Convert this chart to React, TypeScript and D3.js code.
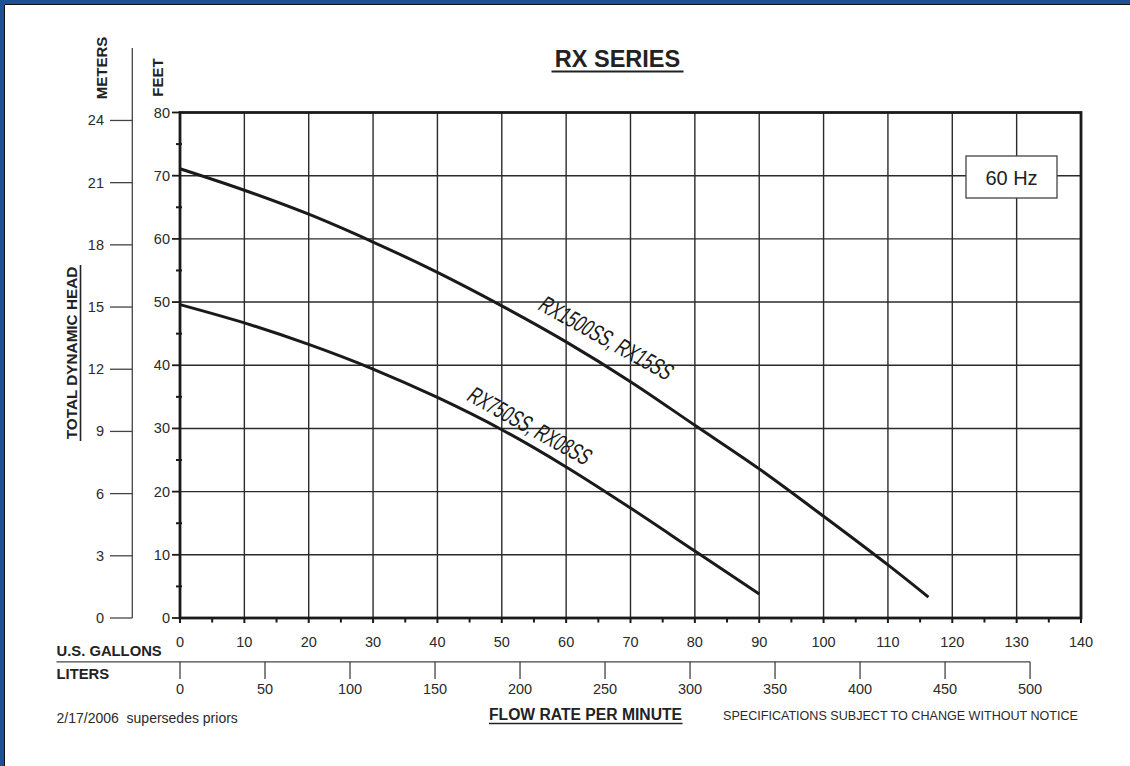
import React from 'react';
import * as d3 from 'd3';

const galTicks = [0, 10, 20, 30, 40, 50, 60, 70, 80, 90, 100, 110, 120, 130, 140];
const galMinor = [5, 15, 25, 35, 45, 55, 65, 75, 85, 95, 105, 115, 125, 135];
const feetTicks = [0, 10, 20, 30, 40, 50, 60, 70, 80];
const feetMinor = [5, 15, 25, 35, 45, 55, 65, 75];
const meterTicks = [0, 3, 6, 9, 12, 15, 18, 21, 24];
const literTicks = [0, 50, 100, 150, 200, 250, 300, 350, 400, 450, 500];

const rx1500Gal = [0, 10, 20, 30, 40, 50, 60, 70, 80, 90, 100, 110, 116.3];
const rx1500Head = [71.1, 67.7, 63.9, 59.5, 54.7, 49.4, 43.7, 37.4, 30.5, 23.6, 16.1, 8.4, 3.3];
const rx750Gal = [0, 10, 20, 30, 40, 50, 60, 70, 80, 90];
const rx750Head = [49.6, 46.7, 43.3, 39.4, 34.9, 29.8, 23.9, 17.4, 10.6, 3.8];

const FONT = '"Liberation Sans", Arial, Helvetica, sans-serif';
const L_PER_GAL = 3.78541;
const FT_PER_M = 3.28084;

export default function App() {
  const x = d3.scaleLinear().domain([0, 140]).range([180, 1081]);
  const y = d3.scaleLinear().domain([0, 80]).range([618, 112.5]);
  const ym = (m: number) => y(m * FT_PER_M);
  const xl = (l: number) => x(l / L_PER_GAL);

  const line = d3
    .line<[number, number]>()
    .x((d) => x(d[0]))
    .y((d) => y(d[1]))
    .curve(d3.curveCatmullRom.alpha(0.5));

  const big = line(rx1500Gal.map((g, i) => [g, rx1500Head[i]] as [number, number])) || '';
  const small = line(rx750Gal.map((g, i) => [g, rx750Head[i]] as [number, number])) || '';

  const gridColor = '#2b2b2b';
  const x0 = x(0), x1 = x(140), y0 = y(0), y1 = y(80);

  return (
    <svg
      width={1130}
      height={766}
      style={{ position: 'absolute', left: 0, top: 0, display: 'block', background: '#fff' }}
      fontFamily={FONT}
    >
      <rect x={0} y={0} width={1130} height={766} fill="#fff" />
      {/* blue frame */}
      <rect x={0} y={0} width={1130} height={4} fill="#1c5295" />
      <rect x={0} y={0} width={4} height={766} fill="#1c5295" />
      <line x1={4.5} y1={4.5} x2={1130} y2={4.5} stroke="#111" strokeWidth={1} />
      <line x1={4.5} y1={4.5} x2={4.5} y2={766} stroke="#111" strokeWidth={1} />

      {/* title */}
      <text x={617.5} y={66.5} textAnchor="middle" fontSize={23.5} fontWeight="bold" fill="#222">
        RX SERIES
      </text>
      <line x1={551.5} y1={71.5} x2={683.5} y2={71.5} stroke="#222" strokeWidth={2} />

      {/* grid */}
      {galTicks.slice(1, -1).map((g) => (
        <line key={'gv' + g} x1={x(g)} x2={x(g)} y1={y0} y2={y1} stroke={gridColor} strokeWidth={1.4} />
      ))}
      {feetTicks.slice(1, -1).map((f) => (
        <line key={'gh' + f} x1={x0} x2={x1} y1={y(f)} y2={y(f)} stroke={gridColor} strokeWidth={1.4} />
      ))}

      {/* frame */}
      <rect x={x0} y={y1} width={x1 - x0} height={y0 - y1} fill="none" stroke="#1a1a1a" strokeWidth={2.8} />

      {/* x ticks */}
      {galTicks.map((g) => (
        <line key={'xt' + g} x1={x(g)} x2={x(g)} y1={y0} y2={y0 + 5} stroke="#1a1a1a" strokeWidth={2} />
      ))}
      {galMinor.map((g) => (
        <line key={'xm' + g} x1={x(g)} x2={x(g)} y1={y0} y2={y0 + 4.5} stroke="#1a1a1a" strokeWidth={2} />
      ))}
      {galTicks.map((g) => (
        <text key={'xl' + g} x={x(g)} y={646.5} textAnchor="middle" fontSize={14.5} fill="#2a2a2a">
          {g}
        </text>
      ))}

      {/* y ticks feet */}
      {feetTicks.map((f) => (
        <line key={'yt' + f} x1={x0 - 8} x2={x0} y1={y(f)} y2={y(f)} stroke="#1a1a1a" strokeWidth={1.8} />
      ))}
      {feetMinor.map((f) => (
        <line key={'ym' + f} x1={x0 - 4} x2={x0 + 2} y1={y(f)} y2={y(f)} stroke="#1a1a1a" strokeWidth={2} />
      ))}
      {feetTicks.map((f) => (
        <text key={'yl' + f} x={170} y={y(f) + 5} textAnchor="end" fontSize={14.5} fill="#2a2a2a">
          {f}
        </text>
      ))}
      <text
        transform={`translate(163,77.5) rotate(-90)`}
        textAnchor="middle"
        fontSize={15}
        fontWeight="bold"
        fill="#222"
      >
        FEET
      </text>

      {/* meters axis */}
      <line x1={132.3} x2={132.3} y1={48} y2={y0} stroke="#444" strokeWidth={1.3} />
      {meterTicks.map((m) => (
        <line key={'mt' + m} x1={110} x2={132.3} y1={ym(m)} y2={ym(m)} stroke="#444" strokeWidth={1.3} />
      ))}
      {meterTicks.map((m) => (
        <text key={'ml' + m} x={104} y={ym(m) + 5} textAnchor="end" fontSize={14.5} fill="#2a2a2a">
          {m}
        </text>
      ))}
      <text
        transform={`translate(107,68) rotate(-90)`}
        textAnchor="middle"
        fontSize={15}
        fontWeight="bold"
        fill="#222"
      >
        METERS
      </text>
      <g transform={`translate(77,353) rotate(-90)`}>
        <text x={0} y={0} textAnchor="middle" fontSize={15.3} fontWeight="bold" fill="#222">
          TOTAL DYNAMIC HEAD
        </text>
        <line x1={-88} x2={88} y1={3.5} y2={3.5} stroke="#222" strokeWidth={1.6} />
      </g>

      {/* liters axis */}
      <line x1={56.5} x2={xl(500)} y1={661.8} y2={661.8} stroke="#444" strokeWidth={1.3} />
      {literTicks.map((l) => (
        <line key={'lt' + l} x1={xl(l)} x2={xl(l)} y1={661.8} y2={679} stroke="#444" strokeWidth={1.3} />
      ))}
      {literTicks.map((l) => (
        <text key={'ll' + l} x={xl(l)} y={694} textAnchor="middle" fontSize={14.5} fill="#2a2a2a">
          {l}
        </text>
      ))}
      <text x={56.5} y={656} fontSize={14.8} fontWeight="bold" fill="#222">
        U.S. GALLONS
      </text>
      <text x={56.5} y={678.5} fontSize={14.8} fontWeight="bold" fill="#222">
        LITERS
      </text>

      {/* curves */}
      <path d={big} fill="none" stroke="#1a1a1a" strokeWidth={3} strokeLinecap="butt" />
      <path d={small} fill="none" stroke="#1a1a1a" strokeWidth={3} strokeLinecap="butt" />

      {/* curve labels */}
      <text
        transform={`translate(${x(66.3)},${y(44.3)}) rotate(29) skewX(-10)`}
        textAnchor="middle"
        dominantBaseline="central"
        fontSize={24}
        textLength={148}
        lengthAdjust="spacingAndGlyphs"
        fill="#1a1a1a"
      >
        RX1500SS, RX15SS
      </text>
      <text
        transform={`translate(${x(54.4)},${y(30.4)}) rotate(29) skewX(-10)`}
        textAnchor="middle"
        dominantBaseline="central"
        fontSize={24}
        textLength={136}
        lengthAdjust="spacingAndGlyphs"
        fill="#1a1a1a"
      >
        RX750SS, RX08SS
      </text>

      {/* 60 Hz box */}
      <rect x={966} y={156} width={91} height={42} fill="#fff" stroke="#444" strokeWidth={1.3} />
      <text x={1011.5} y={184.5} textAnchor="middle" fontSize={20} fill="#222">
        60 Hz
      </text>

      {/* footer */}
      <text x={56.5} y={722.5} fontSize={14} fill="#2a2a2a">
        {'2/17/2006\u00a0 supersedes priors'}
      </text>
      <text
        x={489}
        y={720}
        fontSize={16}
        fontWeight="bold"
        textLength={193}
        lengthAdjust="spacingAndGlyphs"
        fill="#222"
      >
        FLOW RATE PER MINUTE
      </text>
      <line x1={489} x2={682.5} y1={723.5} y2={723.5} stroke="#222" strokeWidth={1.6} />
      <text
        x={723}
        y={719.5}
        fontSize={12.5}
        textLength={355}
        lengthAdjust="spacingAndGlyphs"
        fill="#2a2a2a"
      >
        SPECIFICATIONS SUBJECT TO CHANGE WITHOUT NOTICE
      </text>
    </svg>
  );
}
